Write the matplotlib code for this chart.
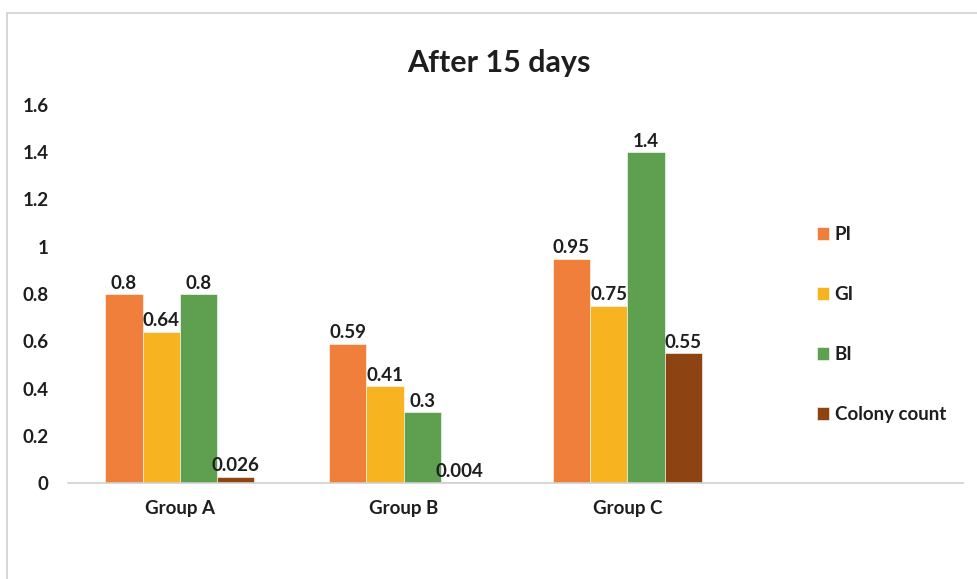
import matplotlib
matplotlib.use("Agg")
import matplotlib.pyplot as plt
from matplotlib.patches import Rectangle
import numpy as np

plt.rcParams["font.family"] = ["Lato", "DejaVu Sans"]
plt.rcParams["font.weight"] = "bold"

groups = ["Group A", "Group B", "Group C", ""]
series = ["PI", "GI", "BI", "Colony count"]
pi = [0.8, 0.59, 0.95]
gi = [0.64, 0.41, 0.75]
bi = [0.8, 0.3, 1.4]
colony = [0.026, 0.004, 0.55]
yticks = [0, 0.2, 0.4, 0.6, 0.8, 1, 1.2, 1.4, 1.6]

colors = ["#EF7F3A", "#F8B420", "#5EA050", "#8E4312"]
text_col = "#1E1E1E"
fs = 13.5

fig = plt.figure(figsize=(9.78, 5.79), dpi=100)
# chart frame, running off the right and bottom edges
fig.patches.append(Rectangle((7 / 978, -0.05), 1.1, 1 - 13 / 579 + 0.05,
                             transform=fig.transFigure, fill=False,
                             edgecolor="#D0D0D0", linewidth=1.2))

ax = fig.add_axes([68 / 978, 1 - 483 / 579, 895 / 978, 378 / 579])

x = np.arange(len(groups))
width = 1 / 6
for i, (name, vals) in enumerate(zip(series, [pi, gi, bi, colony])):
    pos = x[:len(vals)] + (i - 1.5) * width
    bars = ax.bar(pos, vals, width, color=colors[i], label=name,
                  edgecolor="white", linewidth=0.4)
    for b, v in zip(bars, vals):
        ax.text(b.get_x() + b.get_width() / 2, v + 0.01, f"{v:g}",
                ha="center", va="bottom", fontsize=fs, fontweight="bold",
                color=text_col)

ax.set_xlim(-0.5, len(groups) - 0.5)
ax.set_ylim(0, 1.6)
ax.set_xticks(x)
ax.set_xticklabels(groups)
ax.set_yticks(yticks)
ax.set_yticklabels([f"{t:g}" for t in yticks])
ax.tick_params(length=0, labelsize=fs, colors=text_col)
ax.tick_params(axis="y", pad=14)
ax.tick_params(axis="x", pad=12)
for s in ["top", "right", "left"]:
    ax.spines[s].set_visible(False)
ax.spines["bottom"].set_color("#D0D0D0")
ax.spines["bottom"].set_linewidth(1.2)

fig.text(499 / 978, 1 - 63 / 579, "After 15 days", ha="center", va="center",
         fontsize=22, fontweight="bold", color=text_col)

ax.legend(loc="upper left", bbox_to_anchor=(800 / 978, 1 - 209 / 579),
          bbox_transform=fig.transFigure, frameon=False,
          handlelength=0.65, handleheight=0.65, handletextpad=0.3,
          labelspacing=2.3, prop={"size": fs, "weight": "bold"},
          labelcolor=text_col)

fig.savefig("out.png", dpi=100)
